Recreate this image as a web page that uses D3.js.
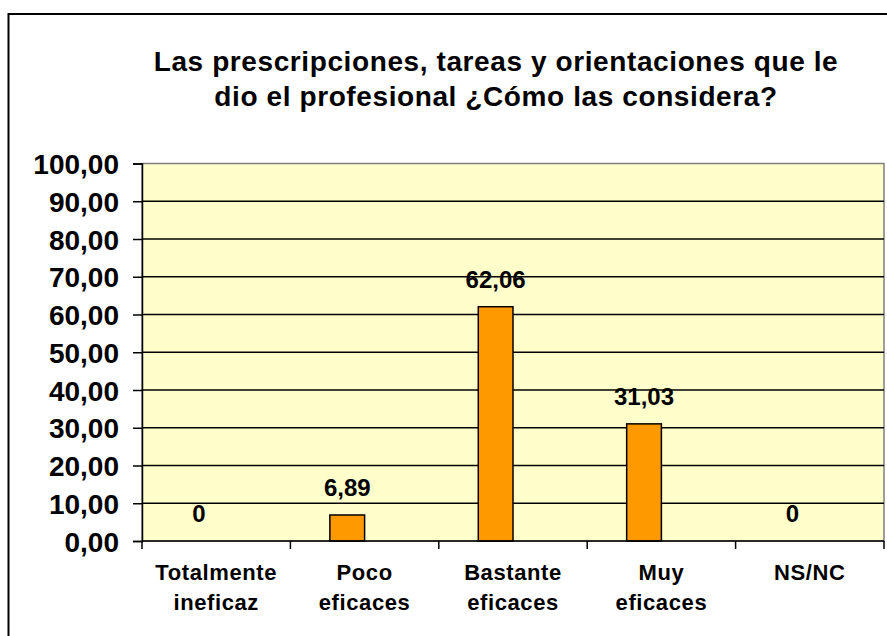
<!DOCTYPE html>
<html>
<head>
<meta charset="utf-8">
<script src="https://cdn.jsdelivr.net/npm/d3@7"></script>
<style>
  html, body { margin: 0; padding: 0; background: #fff; }
  svg { display: block; }
  text { font-family: "Liberation Sans", Arial, sans-serif; font-weight: bold; fill: #000; }
</style>
</head>
<body>
<svg id="chart" width="887" height="636"></svg>
<script>
const categories = [["Totalmente", "ineficaz"], ["Poco", "eficaces"], ["Bastante", "eficaces"], ["Muy", "eficaces"], ["NS/NC"]];
const values = [0, 6.89, 62.06, 31.03, 0];
const valueLabels = ["0", "6,89", "62,06", "31,03", "0"];
const yTicks = [0, 10, 20, 30, 40, 50, 60, 70, 80, 90, 100];
const titleLines = ["Las prescripciones, tareas y orientaciones que le", "dio el profesional ¿Cómo las considera?"];

const svg = d3.select("#chart");
const plot = { left: 142, right: 884, top: 163.5, bottom: 541 };

// outer border (extends beyond right/bottom edge)
svg.append("rect")
  .attr("x", 8.5).attr("y", 14)
  .attr("width", 900).attr("height", 700)
  .attr("fill", "#fff").attr("stroke", "#000").attr("stroke-width", 2);

// title
svg.append("g").selectAll("text").data(titleLines).join("text")
  .attr("x", 496).attr("y", (d, i) => 71 + i * 35)
  .attr("text-anchor", "middle")
  .style("font-size", "28px")
  .style("letter-spacing", "0.6px")
  .text(d => d);

const x = d3.scaleBand()
  .domain(d3.range(categories.length))
  .range([plot.left, plot.right])
  .paddingInner(0).paddingOuter(0);

const y = d3.scaleLinear().domain([0, 100]).range([plot.bottom, plot.top]);

// plot background
svg.append("rect")
  .attr("x", plot.left).attr("y", plot.top)
  .attr("width", plot.right - plot.left).attr("height", plot.bottom - plot.top)
  .attr("fill", "#FFFFCC").attr("stroke", "#808080").attr("stroke-width", 1.5);

// gridlines
svg.append("g").selectAll("line").data(yTicks.filter(t => t > 0 && t < 100)).join("line")
  .attr("x1", plot.left).attr("x2", plot.right)
  .attr("y1", d => y(d)).attr("y2", d => y(d))
  .attr("stroke", "#000").attr("stroke-width", 1.5);

// bars
const barW = x.step() * 0.234;
svg.append("g").selectAll("rect").data(values).join("rect")
  .attr("x", (d, i) => x(i) + x.step() / 2 - barW)
  .attr("y", d => y(d))
  .attr("width", barW)
  .attr("height", d => y(0) - y(d))
  .attr("fill", "#FF9900")
  .attr("stroke", "#000")
  .attr("stroke-width", d => d > 0 ? 1.5 : 0);

// value labels
svg.append("g").selectAll("text").data(values).join("text")
  .attr("x", (d, i) => x(i) + x.step() / 2 - barW / 2)
  .attr("y", d => y(d) - 19)
  .attr("text-anchor", "middle")
  .style("font-size", "24px")
  .text((d, i) => valueLabels[i]);

// y axis
const yAxis = d3.axisLeft(y).tickValues(yTicks).tickSize(9).tickPadding(14)
  .tickFormat(d => d3.format(".2f")(d).replace(".", ","));
const gy = svg.append("g").attr("transform", `translate(${plot.left},0)`).call(yAxis);
gy.select(".domain").attr("stroke", "#000").attr("stroke-width", 1.5);
gy.selectAll(".tick line").attr("stroke", "#000").attr("stroke-width", 1.5);
gy.selectAll(".tick text")
  .style("font-family", '"Liberation Sans", Arial, sans-serif')
  .style("font-weight", "bold")
  .style("font-size", "28px")
  .attr("dy", "0.36em");

// x axis line and ticks at category boundaries
const xb = svg.append("g");
xb.append("line")
  .attr("x1", plot.left).attr("x2", plot.right)
  .attr("y1", plot.bottom).attr("y2", plot.bottom)
  .attr("stroke", "#000").attr("stroke-width", 1.5);
const bounds = d3.range(categories.length + 1).map(i => plot.left + i * x.step());
xb.selectAll("line.tk").data(bounds).join("line").attr("class", "tk")
  .attr("x1", d => d).attr("x2", d => d)
  .attr("y1", plot.bottom).attr("y2", plot.bottom + 8)
  .attr("stroke", "#000").attr("stroke-width", 1.5);

// category labels
const cl = svg.append("g").selectAll("text").data(categories).join("text")
  .attr("x", (d, i) => x(i) + x.step() / 2)
  .attr("y", 580)
  .attr("text-anchor", "middle")
  .style("font-size", "22px")
  .style("letter-spacing", "0.6px");
cl.selectAll("tspan").data(d => d).join("tspan")
  .attr("x", function() { return d3.select(this.parentNode).attr("x"); })
  .attr("dy", (d, i) => i === 0 ? 0 : 30)
  .text(d => d);
</script>
</body>
</html>
